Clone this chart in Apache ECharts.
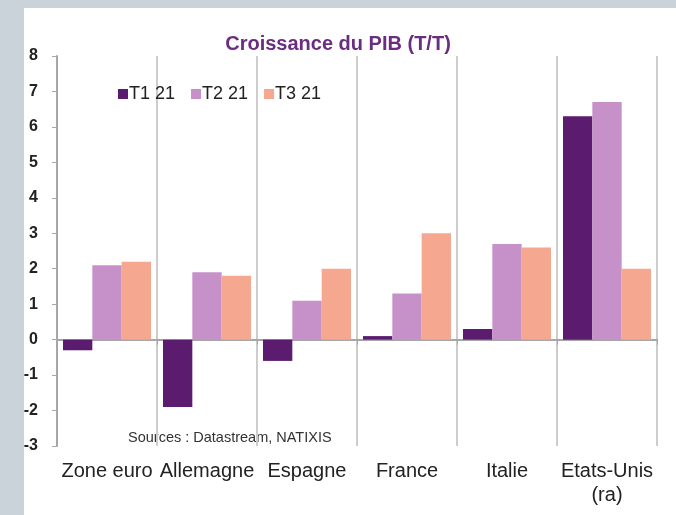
<!DOCTYPE html>
<html>
<head>
<meta charset="utf-8">
<script src="https://cdn.jsdelivr.net/npm/echarts@6/dist/echarts.min.js"></script>
<style>
  html, body { margin: 0; padding: 0; background: #c9d3d9; }
  #chart { width: 676px; height: 515px; }
</style>
</head>
<body>
<div id="chart"></div>
<script>
// Croissance du PIB (T/T), %
const categories = ['Zone euro', 'Allemagne', 'Espagne', 'France', 'Italie', 'Etats-Unis\n(ra)'];
const seriesNames = ['T1 21', 'T2 21', 'T3 21'];
const t1 = [-0.3, -1.9, -0.6, 0.1, 0.3, 6.3];
const t2 = [2.1, 1.9, 1.1, 1.3, 2.7, 6.7];
const t3 = [2.2, 1.8, 2.0, 3.0, 2.6, 2.0];
const yTicks = { min: -3, max: 8, interval: 1 };

const COLORS = ['#5b1c6f', '#c690c9', '#f5a78f'];
const FONT = 'Liberation Sans, Arial, sans-serif';

const chart = echarts.init(document.getElementById('chart'), null, { renderer: 'canvas' });

const values = [t1, t2, t3];

chart.setOption({
    color: COLORS,
    backgroundColor: '#c9d3d9',
    animation: false,
    textStyle: { fontFamily: FONT },
    graphic: [
        // white panel inside the grey frame
        { type: 'rect', left: 24, top: 8, shape: { width: 652, height: 507 }, style: { fill: '#ffffff' }, z: -10 },
        {
            type: 'text', left: 128, top: 430,
            style: { text: 'Sources : Datastream, NATIXIS', fill: '#333', font: '14.5px "Liberation Sans Narrow", "Liberation Sans", Arial, sans-serif' },
        },
    ],
    title: {
        text: 'Croissance du PIB (T/T)',
        left: 'center',
        top: 29,
        textStyle: { color: '#6b2d80', fontSize: 20, fontWeight: 'bold', fontFamily: FONT },
    },
    legend: {
        left: 113,
        top: 80,
        icon: 'rect',
        itemWidth: 10,
        itemHeight: 10,
        itemGap: 16,
        textStyle: { color: '#222', fontSize: 18, fontFamily: FONT, padding: [0, 0, 0, -4] },
        data: seriesNames,
    },
    grid: { left: 57, right: 19, top: 56, bottom: 69 },
    xAxis: [
        {
            type: 'category',
            data: categories,
            axisLine: { onZero: true, lineStyle: { color: '#a6a6a6', width: 2 } },
            axisTick: { show: true, interval: 0, length: 5, lineStyle: { color: '#a6a6a6' } },
            axisLabel: { show: false },
            splitLine: { show: true, interval: 0, lineStyle: { color: '#cdcdcd', width: 2 } },
        },
        {
            type: 'category',
            data: categories,
            position: 'bottom',
            axisLine: { show: false, onZero: false },
            axisTick: { show: false },
            splitLine: { show: false },
            axisLabel: { interval: 0, margin: 13, color: '#222', fontSize: 20, lineHeight: 24, fontFamily: FONT },
        },
    ],
    yAxis: {
        type: 'value',
        min: yTicks.min,
        max: yTicks.max,
        interval: yTicks.interval,
        axisLine: { show: true, lineStyle: { color: '#a6a6a6', width: 2 } },
        axisTick: { show: true, length: 5, lineStyle: { color: '#a6a6a6' } },
        axisLabel: { color: '#222', fontSize: 16, fontWeight: 'bold', margin: 19, fontFamily: FONT },
        splitLine: { show: false },
    },
    series: seriesNames.map((name, i) => ({
        name,
        type: 'bar',
        xAxisIndex: 0,
        data: values[i],
        barGap: '0%',
        barCategoryGap: '12%',
    })),
});
</script>
</body>
</html>
